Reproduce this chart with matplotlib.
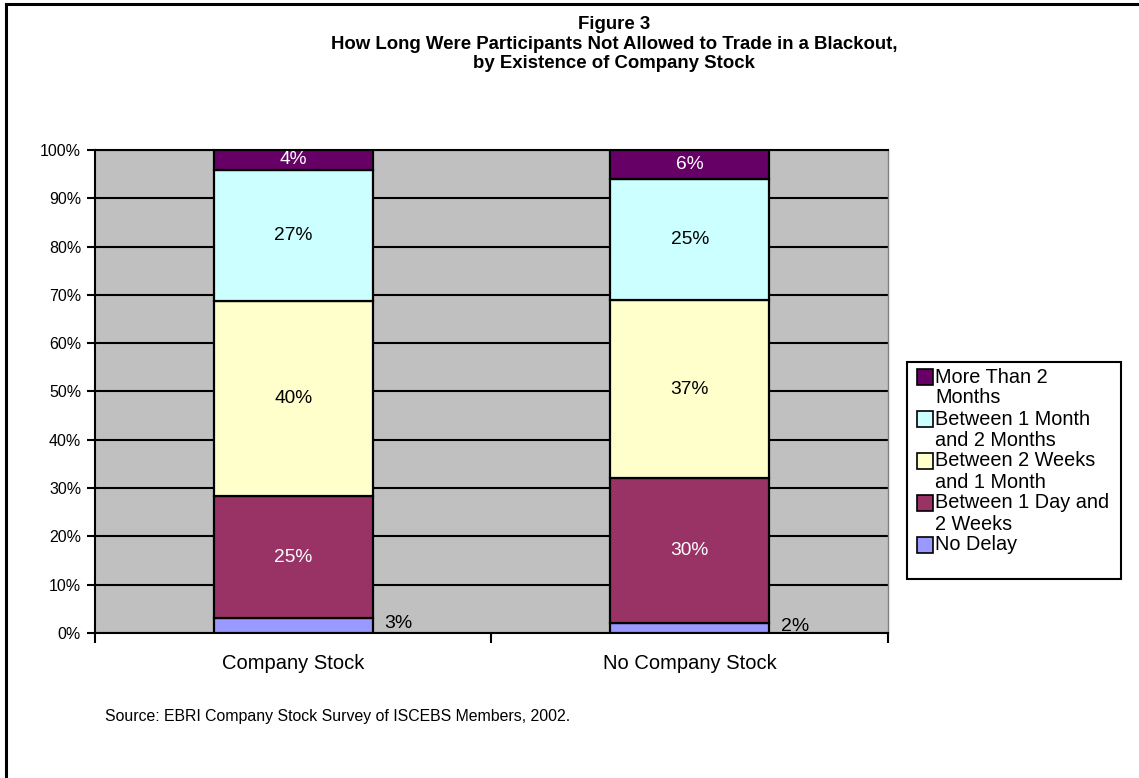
import matplotlib.pyplot as plt
import numpy as np
from matplotlib.patches import Rectangle
from matplotlib.lines import Line2D

plt.rcParams['font.family'] = ['Liberation Sans', 'DejaVu Sans']

categories = ["Company Stock", "No Company Stock"]
series = ["No Delay", "Between 1 Day and 2 Weeks", "Between 2 Weeks and 1 Month",
          "Between 1 Month and 2 Months", "More Than 2 Months"]
legend_labels = ["No Delay", "Between 1 Day and\n2 Weeks", "Between 2 Weeks\nand 1 Month",
                 "Between 1 Month\nand 2 Months", "More Than 2\nMonths"]
no_delay = [3, 2]
day_to_2wk = [25, 30]
wk_to_month = [40, 37]
month_to_2mo = [27, 25]
over_2mo = [4, 6]

colors = ["#9999FF", "#993366", "#FFFFCC", "#CCFFFF", "#660066"]
label_colors = ["black", "white", "black", "black", "white"]

values = np.array([no_delay, day_to_2wk, wk_to_month, month_to_2mo, over_2mo], dtype=float)
shares = values / values.sum(axis=0) * 100  # 100% stacked

fig = plt.figure(figsize=(11.39, 7.78), dpi=100)
ax = fig.add_axes([0.0834, 0.1864, 0.6962, 0.6208])
ax.set_facecolor("#C0C0C0")

x = np.arange(len(categories))
width = 0.4
bottom = np.zeros(len(categories))
for i in range(len(series)):
    ax.bar(x, shares[i], width, bottom=bottom, color=colors[i], edgecolor="black",
           linewidth=1.6, zorder=3, label=series[i])
    for j in range(len(categories)):
        txt = "%d%%" % values[i, j]
        if i == 0:
            # first segment is too thin, label goes beside the bar
            ax.text(x[j] + width / 2 + 0.03, bottom[j] + shares[i, j] / 2 + 0.4, txt,
                    ha="left", va="center", fontsize=14, color="black", zorder=4)
        else:
            ax.text(x[j], bottom[j] + shares[i, j] / 2, txt, ha="center", va="center",
                    fontsize=13.8, color=label_colors[i], zorder=4)
    bottom += shares[i]

ax.set_xlim(-0.5, 1.5)
ax.set_ylim(0, 100)
ax.set_yticks(np.arange(0, 101, 10))
ax.set_yticklabels(["%d%%" % v for v in range(0, 101, 10)], fontsize=11.5)
ax.yaxis.grid(True, color="black", linewidth=1.5, zorder=1)
ax.set_axisbelow(True)
ax.tick_params(axis="y", length=6, width=1.5, pad=4)

ax.set_xticks(x)
ax.set_xticklabels(categories, fontsize=14.5)
ax.tick_params(axis="x", which="major", length=0, pad=15)
ax.set_xticks([-0.5, 0.5, 1.5], minor=True)
ax.tick_params(axis="x", which="minor", length=7, width=1.5)

ax.spines["left"].set_linewidth(1.5)
ax.spines["bottom"].set_linewidth(1.5)
ax.spines["top"].set_linewidth(1.5)
ax.spines["right"].set_color("#808080")
ax.spines["right"].set_linewidth(1)

title_kw = dict(ha="center", va="center", fontsize=13.4, fontweight="bold")
fig.text(0.539, 0.969, "Figure 3", **title_kw)
fig.text(0.539, 0.943, "How Long Were Participants Not Allowed to Trade in a Blackout,", **title_kw)
fig.text(0.539, 0.919, "by Existence of Company Stock", **title_kw)

fig.text(105 / 1139, 1 - 716 / 778, "Source: EBRI Company Stock Survey of ISCEBS Members, 2002.",
         ha="left", va="center", fontsize=11.4)

# legend drawn by hand so the swatch sits on the first line of each entry
W, H = 1139.0, 778.0
fig.add_artist(Rectangle((907 / W, 1 - 579 / H), 214 / W, 217 / H, transform=fig.transFigure,
                         facecolor="white", edgecolor="black", linewidth=1.5))
line_h = 21.0
ypix = 377.0
for i in reversed(range(len(series))):
    fig.add_artist(Rectangle((917 / W, 1 - (ypix + 8) / H), 16 / W, 16 / H,
                             transform=fig.transFigure, facecolor=colors[i],
                             edgecolor="black", linewidth=1.2))
    for k, part in enumerate(legend_labels[i].split("\n")):
        fig.text(935 / W, 1 - (ypix + k * line_h) / H, part, ha="left", va="center",
                 fontsize=14.3)
    ypix += line_h * len(legend_labels[i].split("\n"))

# outer frame
fig.add_artist(Line2D([5.5 / W, 1], [1 - 4 / H, 1 - 4 / H], transform=fig.transFigure,
                      color="black", linewidth=2.2))
fig.add_artist(Line2D([5.5 / W, 5.5 / W], [0, 1 - 4 / H], transform=fig.transFigure,
                      color="black", linewidth=2.2))

fig.savefig("out.png", dpi=100)
